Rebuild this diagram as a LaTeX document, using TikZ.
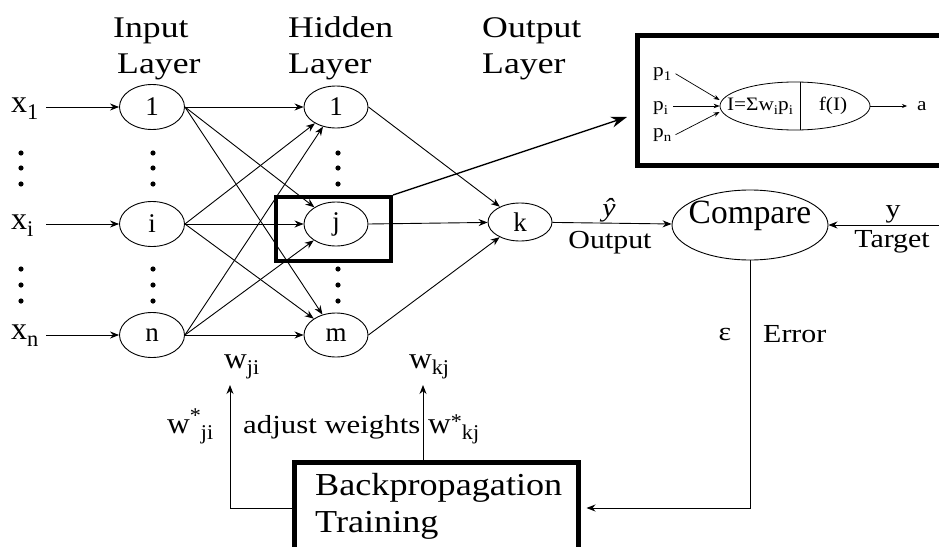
\documentclass[tikz,border=0pt]{standalone}
\usepackage{fontspec}
\setmainfont{Liberation Serif}
\usepackage{graphicx}
\usetikzlibrary{shapes.geometric,arrows.meta}
\newcommand\lsub[1]{\raisebox{-0.5ex}{\scalebox{0.7}{#1}}}
\newcommand\lsup[1]{\raisebox{0.75ex}{\scalebox{0.7}{#1}}}
\newcommand\msup[1]{\raisebox{0.35ex}{\scalebox{0.7}{#1}}}
\begin{document}
\begin{tikzpicture}[x=1pt,y=-1pt,
  neuron/.style={ellipse,draw,line width=0.9pt,inner sep=0pt,minimum width=65pt,minimum height=45pt,font=\fontsize{27}{27}\selectfont},
  lab/.style={font=\fontsize{30}{30}\selectfont,xscale=1.19,inner sep=0pt,anchor=base west},
  mid/.style={font=\fontsize{26}{26}\selectfont,xscale=1.15,inner sep=0pt},
  wl/.style={font=\fontsize{30}{30}\selectfont,xscale=1.05,inner sep=0pt,anchor=base west},
  xl/.style={font=\fontsize{32}{32}\selectfont,inner sep=0pt,anchor=base west},
  small/.style={font=\fontsize{19}{19}\selectfont,xscale=1.12,inner sep=0pt},
  big/.style={font=\fontsize{32}{32}\selectfont,xscale=1.13,inner sep=0pt},
  arr/.style={-{Stealth[length=9pt,width=7pt]},line width=0.9pt},
  sarr/.style={-{Stealth[length=6pt,width=4.5pt]},line width=0.7pt},
  thickbox/.style={draw,inner sep=0pt},
]
\useasboundingbox (0,0) rectangle (939,546);
\clip (0,0) rectangle (939,546);

% layer titles
\node[lab] (t1a) at (113,37) {Input};
\node[lab] (t1b) at (117,73) {Layer};
\node[lab] (t2a) at (288,37) {Hidden};
\node[lab] (t2b) at (288,73) {Layer};
\node[lab] (t3a) at (482,37) {Output};
\node[lab] (t3b) at (482,73) {Layer};

% neurons
\node[neuron] (in1) at (152,107) {1};
\node[neuron] (ini) at (152,224) {i};
\node[neuron] (inn) at (152,335) {n};
\node[neuron,minimum width=64pt,minimum height=42pt] (h1) at (336,107) {1};
\node[neuron,minimum width=64pt,minimum height=44pt] (hj) at (336,224) {j};
\node[neuron,minimum width=64pt,minimum height=44pt] (hm) at (336,335) {m};
\node[neuron,minimum width=64pt,minimum height=38pt] (k) at (520,222) {k};

% input labels
\node[xl] (x1) at (11,112) {x\lsub{1}};
\node[xl] (xi) at (11,229) {x\lsub{i}};
\node[xl] (xn) at (11,339) {x\lsub{n}};
\coordinate (xs1) at (46,107);
\coordinate (xsi) at (46,224);
\coordinate (xsn) at (46,335);
\draw[arr] (xs1) -- (in1);
\draw[arr] (xsi) -- (ini);
\draw[arr] (xsn) -- (inn);

% dots
\foreach \x in {21,153,338}{
  \foreach \y in {153,168,184,269,285,301}{
    \fill (\x,\y) circle (2.6pt);
  }
}

% connections
\foreach \s in {in1,ini,inn}{
  \foreach \t in {h1,hj,hm}{
    \draw[arr] (\s.east) -- (\t);
  }
}
\foreach \s in {h1,hj,hm}{
  \draw[arr] (\s.east) -- (k);
}

% highlight box around j
\node[thickbox,line width=4pt,minimum width=115pt,minimum height=64pt] (jbox) at (333.5,229) {};
\coordinate (tip) at (627,117);
\draw[-{Stealth[length=16pt,width=11pt]},line width=1.4pt] (jbox.north east) -- (tip);

% inset
\node[thickbox,line width=5pt,minimum width=330pt,minimum height=130pt] (inset) at (802,100) {};
\node[ellipse,draw,line width=0.8pt,minimum width=150pt,minimum height=48pt,inner sep=0pt] (nrn) at (795,106) {};
\draw[line width=0.8pt] ([xshift=5pt]nrn.north) -- ([xshift=5pt]nrn.south);
\node[small] (sum) at (760,106) {I=Σw\lsub{i}p\lsub{i}};
\node[small] (fI) at (833,106) {f(I)};
\node[small,anchor=base west] (p1) at (653,76) {p\lsub{1}};
\node[small,anchor=base west] (pi) at (653,110) {p\lsub{i}};
\node[small,anchor=base west] (pn) at (653,137) {p\lsub{n}};
\node[small,anchor=base west] (aout) at (917,110) {a};
\draw[sarr] ([xshift=4pt]p1.east) -- ([yshift=6pt]nrn.west);
\draw[sarr] ([xshift=5pt]pi.east |- nrn.west) -- (nrn.west);
\draw[sarr] ([xshift=4pt]pn.east) -- ([yshift=-6pt]nrn.west);
\draw[-{Stealth[length=5pt,width=4pt]},line width=0.7pt,shorten >=10pt] (nrn.east) -- (aout.west |- nrn.east);

% compare
\node[ellipse,draw,line width=0.9pt,minimum width=156pt,minimum height=70pt,inner sep=0pt] (cmp) at (750,225) {};
\node[big,anchor=base,font=\fontsize{34}{34}\selectfont,xscale=0.87] (cmpt) at (750,223) {Compare};
\draw[arr] (k) -- (cmp);
\node[mid] (yhat) at (609,210) {\textit{\^y}};
\node[mid,anchor=base] (outl) at (610,248) {Output};
\coordinate (tg) at (945,225);
\draw[arr] (tg) -- (cmp);
\node[mid,anchor=base] (yl) at (893,217) {y};
\node[mid,anchor=base] (tgl) at (892,247) {Target};

% error
\node[mid] (eps) at (725,334) {ε};
\node[mid,anchor=base west] (errl) at (763,342) {Error};

% backprop box
\node[thickbox,line width=5pt,minimum width=284pt,minimum height=100pt] (bp) at (436,512) {};
\node[big,anchor=base west] (bpt1) at (315,495) {Backpropagation};
\node[big,anchor=base west] (bpt2) at (315,532) {Training};
\coordinate (ec) at (750,508);
\draw[arr,shorten >=6pt] (cmp.south) -- (ec) -- (ec -| bp.east);
\coordinate (wjt) at (230,385);
\coordinate (wkt) at (423,385);
\draw[arr] (bp.west |- ec) -- (wjt |- ec) -- (wjt);
\draw[arr] (bp.north -| wkt) -- (wkt);

% weight labels
\node[wl] (wji) at (224,368) {w\lsub{ji}};
\node[wl] (wkj) at (409,368) {w\lsub{kj}};
\node[wl] (wsji) at (167,433) {w\lsup{*}\lsub{ji}};
\node[mid,anchor=base west,xscale=1.03] (adj) at (243,433) {adjust weights};
\node[wl] (wskj) at (428,433) {w\msup{*}\lsub{kj}};
\end{tikzpicture}
\end{document}
